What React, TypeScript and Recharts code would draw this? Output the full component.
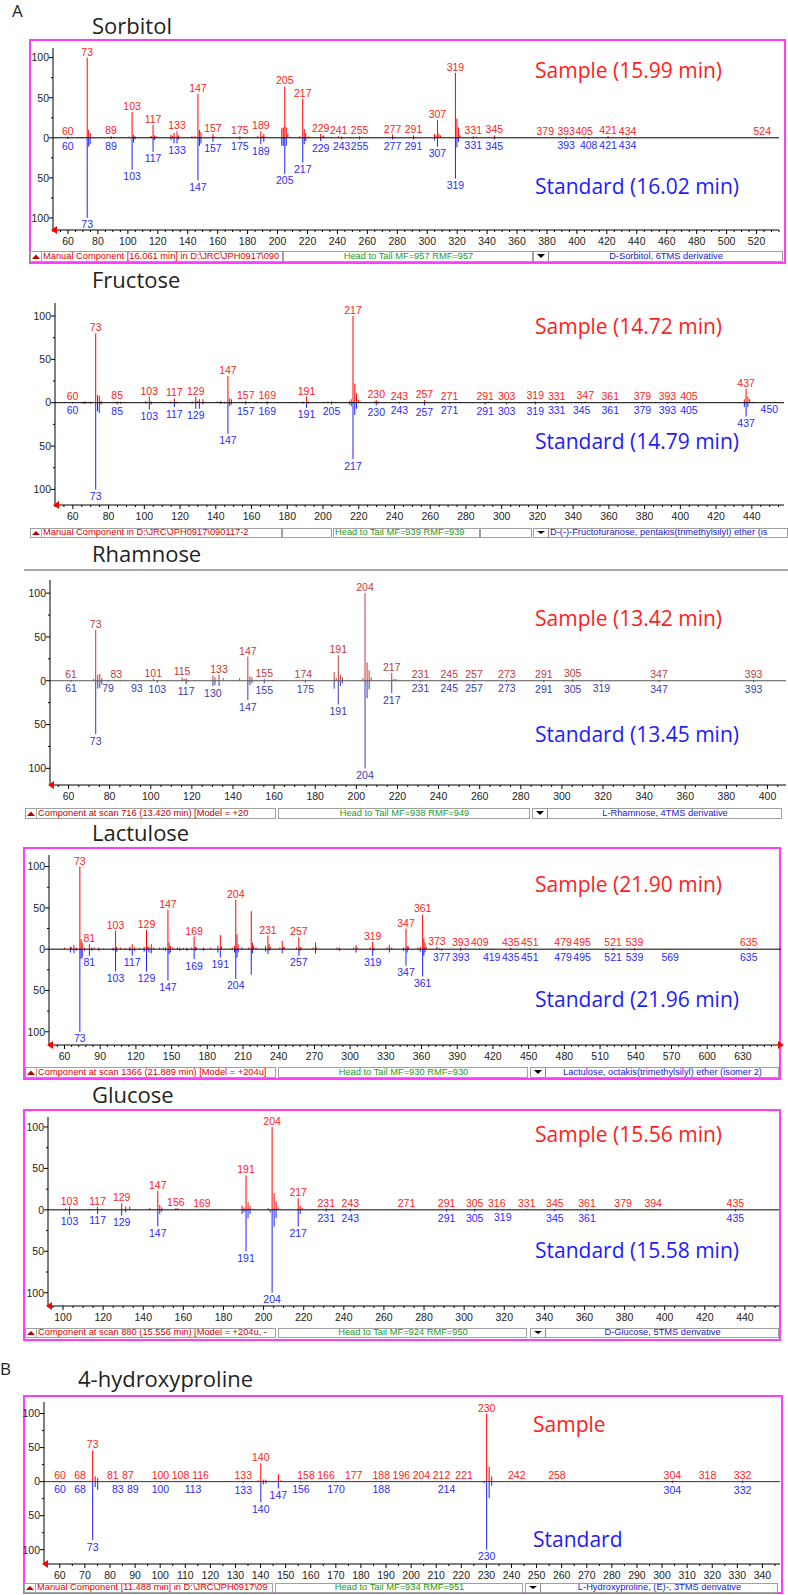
import { BarChart, Bar, XAxis, YAxis, ReferenceLine } from "recharts";

type Peak = [number, number];

// ─── SORBITOL ────────────────────────────────────────────────────────
const sorbitolSample: Peak[] = [
  [60, 1.5], [67, 1], [69, 1], [70, 1], [73, 100], [74, 10], [75, 6], [77, 1], [87, 1], [89, 2], [91, 1],
  [101, 1.5], [103, 32], [104, 4], [105, 2], [115, 1.5], [116, 2], [117, 16], [118, 3], [119, 2],
  [129, 4], [130, 2], [131, 6], [133, 8], [134, 3], [143, 2], [145, 2], [147, 55], [148, 10], [149, 7],
  [157, 5], [158, 1.5], [163, 1], [173, 1], [175, 2], [177, 1], [187, 2], [189, 8], [190, 2], [191, 5],
  [203, 12], [204, 13], [205, 64], [206, 13], [207, 5], [215, 2], [217, 49], [218, 11], [219, 6], [221, 1.5],
  [229, 5], [230, 2], [231, 3], [241, 2], [243, 1.5], [255, 2], [257, 1], [277, 4], [278, 1], [291, 3], [292, 1],
  [305, 5], [306, 3], [307, 22], [308, 5], [309, 3], [319, 81], [320, 24], [321, 13], [322, 3],
  [331, 2], [333, 1.5], [345, 3], [346, 1], [379, 1], [393, 1], [405, 1.5], [408, 1], [421, 2], [434, 1], [524, 0.5],
];
const sorbitolStandard: Peak[] = [
  [60, 1.5], [73, 100], [74, 11], [75, 8], [89, 1.5], [103, 40], [104, 6], [105, 2], [117, 17.5], [118, 3],
  [129, 3], [131, 7], [133, 7], [134, 2], [147, 53], [148, 10], [149, 7], [157, 5], [175, 2], [189, 8], [191, 5],
  [203, 10], [204, 10], [205, 45], [206, 10], [217, 31], [218, 8], [219, 4], [229, 4], [243, 2], [255, 2],
  [277, 2], [291, 2], [305, 3], [307, 11], [319, 51], [320, 12], [321, 5], [331, 1], [345, 2],
  [393, 1], [408, 1], [421, 1], [434, 1],
];
const sorbitolSampleLabels = [60, 73, 89, 103, 117, 133, 147, 157, 175, 189, 205, 217, 229, 241, 255, 277, 291, 307, 319, 331, 345, 379, 393, 405, 421, 434, 524];
const sorbitolStandardLabels = [60, 73, 89, 103, 117, 133, 147, 157, 175, 189, 205, 217, 229, 243, 255, 277, 291, 307, 319, 331, 345, 393, 408, 421, 434];
const sorbitolTicks = [60, 80, 100, 120, 140, 160, 180, 200, 220, 240, 260, 280, 300, 320, 340, 360, 380, 400, 420, 440, 460, 480, 500, 520];

// ─── FRUCTOSE ────────────────────────────────────────────────────────
const fructoseSample: Peak[] = [
  [60, 1], [65, 1], [66, 1], [67, 1.5], [68, 1], [69, 1], [70, 1], [71, 1], [73, 80], [74, 9], [75, 8], [76, 2],
  [83, 1], [85, 1.5], [87, 1], [89, 1], [101, 1.5], [103, 7], [104, 1.5], [111, 1], [115, 1.5], [117, 5], [118, 1],
  [119, 1], [127, 1.5], [129, 7], [130, 2], [131, 4], [133, 4], [141, 1.5], [143, 2], [145, 1], [147, 31], [148, 5],
  [149, 4], [155, 1], [157, 2], [163, 1], [169, 2], [171, 1], [175, 1], [185, 1], [189, 1.5], [191, 7], [192, 1.5],
  [201, 1], [203, 1.5], [205, 2], [207, 1], [215, 2], [216, 4], [217, 100], [218, 22], [219, 11], [220, 3], [221, 1.5],
  [229, 1.5], [230, 3], [231, 1.5], [243, 1], [245, 1], [257, 3], [258, 1], [271, 1], [277, 1], [291, 1], [293, 1],
  [303, 1], [305, 1], [319, 1.5], [331, 1], [347, 1.5], [361, 1], [379, 0.7], [393, 0.7], [405, 0.7],
  [436, 4], [437, 16], [438, 7], [439, 4], [441, 1],
];
const fructoseStandard: Peak[] = [
  [60, 1], [66, 1], [67, 1.5], [70, 1], [73, 100], [74, 10], [75, 12], [76, 2], [85, 2], [87, 1], [101, 1],
  [103, 8], [104, 2], [115, 1], [117, 5], [118, 1], [127, 1], [129, 7], [131, 7], [133, 2], [143, 1.5], [145, 1],
  [147, 36], [148, 4], [149, 2], [157, 2], [169, 2], [189, 1], [191, 6], [192, 1], [205, 2], [215, 2], [216, 4],
  [217, 65], [218, 14], [219, 7], [230, 3], [231, 1], [243, 1], [257, 3], [271, 1], [291, 2], [303, 2], [319, 2],
  [331, 1], [345, 1], [361, 1], [379, 1], [393, 1], [405, 1], [436, 5], [437, 16], [438, 5], [450, 0.3],
];
const fructoseSampleLabels = [60, 73, 85, 103, 117, 129, 147, 157, 169, 191, 217, 230, 243, 257, 271, 291, 303, 319, 331, 347, 361, 379, 393, 405, 437];
const fructoseStandardLabels = [60, 73, 85, 103, 117, 129, 147, 157, 169, 191, 205, 217, 230, 243, 257, 271, 291, 303, 319, 331, 345, 361, 379, 393, 405, 437, 450];
const fructoseTicks = [60, 80, 100, 120, 140, 160, 180, 200, 220, 240, 260, 280, 300, 320, 340, 360, 380, 400, 420, 440];

// ─── RHAMNOSE ────────────────────────────────────────────────────────
const rhamnoseSample: Peak[] = [
  [61, 1], [72, 2], [73, 58], [74, 7], [75, 8], [76, 3], [83, 1], [85, 1], [87, 1], [101, 2], [103, 1],
  [115, 4], [116, 2], [117, 3], [130, 6], [131, 4], [133, 7], [135, 3], [143, 3], [147, 27.5], [148, 5], [149, 4],
  [151, 1], [155, 2], [157, 1], [159, 1], [163, 1], [174, 1], [175, 1], [177, 1], [189, 10], [190, 3], [191, 29],
  [192, 7], [193, 4], [203, 3], [204, 100], [205, 21], [206, 12], [207, 4], [217, 9], [218, 2], [219, 2], [221, 1],
  [231, 1], [245, 1], [257, 1], [265, 1], [273, 1], [291, 1], [305, 1.5], [347, 1], [393, 1],
];
const rhamnoseStandard: Peak[] = [
  [61, 1], [73, 61], [74, 9], [75, 8], [76, 4], [79, 1], [93, 1], [103, 2], [117, 4], [118, 1], [130, 6],
  [131, 5], [133, 6], [147, 22], [148, 5], [149, 3], [155, 3], [175, 2], [189, 9], [191, 27], [192, 6], [193, 3],
  [204, 100], [205, 20], [206, 10], [217, 14], [231, 1], [245, 1], [257, 1], [273, 1], [291, 1.5], [305, 1.5],
  [319, 1], [347, 1.5], [393, 1.5],
];
const rhamnoseSampleLabels = [61, 73, 83, 101, 115, 133, 147, 155, 174, 191, 204, 217, 231, 245, 257, 273, 291, 305, 347, 393];
const rhamnoseStandardLabels = [61, 73, 79, 93, 103, 117, 130, 147, 155, 175, 191, 204, 217, 231, 245, 257, 273, 291, 305, 319, 347, 393];
const rhamnoseTicks = [60, 80, 100, 120, 140, 160, 180, 200, 220, 240, 260, 280, 300, 320, 340, 360, 380, 400];

// ─── LACTULOSE ───────────────────────────────────────────────────────
const lactuloseSample: Peak[] = [
  [60, 2], [65, 3], [66, 2], [68, 5], [70, 2], [73, 100], [74, 12], [75, 8], [77, 2], [81, 6], [83, 2], [85, 2],
  [89, 2], [93, 1], [101, 2], [103, 22.6], [104, 3], [107, 2], [111, 1], [115, 3], [117, 6], [119, 2], [123, 1.5],
  [127, 3], [129, 23.4], [130, 3], [131, 3], [133, 6], [135, 2], [140, 2], [143, 2], [145, 2], [147, 47.6],
  [148, 8], [149, 4], [151, 2], [155, 2], [157, 2], [160, 1.5], [163, 2], [167, 2], [169, 15.3], [170, 3],
  [171, 2], [177, 2], [183, 2], [189, 4], [191, 17], [192, 3], [201, 2], [203, 4], [204, 59.7], [205, 18],
  [206, 6], [209, 2], [215, 2], [217, 46], [218, 8], [219, 4], [221, 2], [229, 4], [231, 16.5], [232, 6],
  [233, 3], [241, 2], [243, 10], [244, 3], [245, 2], [255, 2], [257, 14.5], [258, 3], [259, 2], [269, 2],
  [271, 8], [272, 2], [289, 2], [291, 2], [303, 2], [305, 5], [306, 2], [317, 2], [319, 9], [320, 2], [331, 2],
  [333, 5], [335, 2], [345, 2], [347, 25], [348, 4], [349, 3], [357, 2], [359, 3], [361, 42], [362, 13],
  [363, 8], [364, 3], [373, 3], [375, 1], [393, 2], [397, 1], [409, 1], [435, 1.5], [451, 1], [479, 1],
  [495, 1], [521, 1.5], [539, 1], [635, 1],
];
const lactuloseStandard: Peak[] = [
  [65, 4], [68, 5], [70, 2], [73, 100], [74, 12], [75, 10], [77, 2], [81, 8], [83, 2], [89, 2], [101, 2],
  [103, 27], [104, 3], [115, 2], [117, 8], [119, 2], [127, 3], [129, 27], [131, 4], [133, 5], [145, 2],
  [147, 38], [148, 6], [149, 4], [157, 2], [163, 2], [169, 12], [170, 2], [177, 2], [189, 4], [191, 10],
  [203, 4], [204, 36], [205, 10], [206, 4], [217, 31], [218, 5], [229, 3], [231, 6], [232, 2], [243, 5],
  [257, 8], [258, 2], [271, 5], [291, 2], [305, 4], [319, 8], [320, 2], [333, 4], [345, 2], [347, 20],
  [348, 4], [359, 3], [361, 33], [362, 8], [363, 4], [377, 2], [393, 2], [419, 1], [435, 1], [451, 1],
  [479, 1], [495, 1], [521, 1.5], [539, 1.5], [569, 1], [635, 1],
];
const lactuloseSampleLabels = [73, 81, 103, 129, 147, 169, 204, 231, 257, 319, 347, 361, 373, 393, 409, 435, 451, 479, 495, 521, 539, 635];
const lactuloseStandardLabels = [73, 81, 103, 117, 129, 147, 169, 191, 204, 257, 319, 347, 361, 377, 393, 419, 435, 451, 479, 495, 521, 539, 569, 635];
const lactuloseTicks = [60, 90, 120, 150, 180, 210, 240, 270, 300, 330, 360, 390, 420, 450, 480, 510, 540, 570, 600, 630];

// ─── GLUCOSE ─────────────────────────────────────────────────────────
const glucoseSample: Peak[] = [
  [101, 2], [103, 4], [113, 1], [117, 4], [119, 1], [129, 8], [131, 4], [133, 4], [143, 2], [147, 23], [148, 6],
  [149, 3], [156, 2], [157, 2], [169, 1], [189, 5], [190, 3], [191, 41.5], [192, 9], [193, 5], [202, 2],
  [204, 100], [205, 20], [206, 10], [207, 3], [217, 14], [218, 5], [219, 2], [231, 1.5], [232, 1], [243, 1.5],
  [271, 1], [291, 1], [305, 1], [316, 1], [331, 1], [345, 1], [361, 1], [379, 0.5], [394, 0.5], [435, 1],
];
const glucoseStandard: Peak[] = [
  [103, 6], [117, 5], [129, 7], [131, 3], [147, 20], [148, 5], [149, 2], [189, 5], [190, 3], [191, 50],
  [192, 10], [193, 5], [203, 3], [204, 100], [205, 20], [206, 10], [217, 20], [218, 5], [231, 2], [243, 2],
  [291, 2], [305, 2], [319, 1], [345, 1.5], [361, 1.5], [435, 2],
];
const glucoseSampleLabels = [103, 117, 129, 147, 156, 169, 191, 204, 217, 231, 243, 271, 291, 305, 316, 331, 345, 361, 379, 394, 435];
const glucoseStandardLabels = [103, 117, 129, 147, 191, 204, 217, 231, 243, 291, 305, 319, 345, 361, 435];
const glucoseTicks = [100, 120, 140, 160, 180, 200, 220, 240, 260, 280, 300, 320, 340, 360, 380, 400, 420, 440];

// ─── 4-HYDROXYPROLINE ────────────────────────────────────────────────
const hypSample: Peak[] = [
  [60, 1], [66, 1], [68, 1], [70, 1], [72, 1], [73, 46], [74, 8], [75, 6], [77, 1], [81, 1], [84, 1], [87, 1],
  [99, 1], [100, 1], [102, 1], [108, 1], [110, 1], [116, 1], [118, 1], [126, 1], [128, 1], [131, 1], [133, 1],
  [139, 2], [140, 27], [141, 3], [142, 3], [143, 1], [147, 11], [148, 2], [149, 1], [158, 1], [166, 1], [177, 1],
  [188, 1], [196, 1], [204, 1], [212, 1], [221, 1], [230, 100], [231, 22], [232, 8], [242, 1], [258, 1],
  [304, 1.5], [318, 1], [332, 1.5],
];
const hypStandard: Peak[] = [
  [60, 1], [68, 1], [73, 86], [74, 8], [75, 12], [83, 1], [89, 1], [100, 1], [113, 1], [133, 2], [140, 30],
  [141, 4], [142, 3], [147, 10], [156, 1], [170, 1], [188, 1], [214, 1], [229, 2], [230, 100], [231, 24],
  [232, 6], [304, 2], [332, 2],
];
const hypSampleLabels = [60, 68, 73, 81, 87, 100, 108, 116, 133, 140, 158, 166, 177, 188, 196, 204, 212, 221, 230, 242, 258, 304, 318, 332];
const hypStandardLabels = [60, 68, 73, 83, 89, 100, 113, 133, 140, 147, 156, 170, 188, 214, 230, 304, 332];
const hypTicks = [60, 70, 80, 90, 100, 110, 120, 130, 140, 150, 160, 170, 180, 190, 200, 210, 220, 230, 240, 250, 260, 270, 280, 290, 300, 310, 320, 330, 340];

const yTicks = [-100, -75, -50, -25, 0, 25, 50, 75, 100];

// ─── TYPES / HELPERS ─────────────────────────────────────────────────

type Seg = { x0: number; x1: number; text?: string; color?: string; marker?: "up" | "down"; align?: "left" | "center" };

type PanelCfg = {
  title: string;
  titleX: number;
  titleBase: number;
  letter?: string;
  letterBase?: number;
  sample: Peak[];
  standard: Peak[];
  sampleLabels: number[];
  standardLabels: number[];
  xDomain: [number, number];
  xTicks: number[];
  minorStep: number;
  yDomain: [number, number];
  plotLeft: number;
  plotRight: number;
  plotTop: number;
  plotBottom: number;
  box?: { left: number; top: number; right: number; bottom: number };
  topLine?: number;
  sampleText: string;
  standardText: string;
  textX: number;
  sampleBase: number;
  standardBase: number;
  statusY: number;
  statusH: number;
  status: Seg[];
  rightArrow?: boolean;
  barRed: string;
  barBlue: string;
  labelRed: string;
  labelBlue: string;
  zeroColor: string;
};

type Row = { mz: number; s: number; t: number; sl: boolean; tl: boolean };

function buildRows(sample: Peak[], standard: Peak[], sl: number[], tl: number[]): Row[] {
  const map = new Map<number, Row>();
  const get = (mz: number) => {
    let r = map.get(mz);
    if (!r) {
      r = { mz, s: 0, t: 0, sl: false, tl: false };
      map.set(mz, r);
    }
    return r;
  };
  sample.forEach(([mz, v]) => (get(mz).s = v));
  standard.forEach(([mz, v]) => (get(mz).t = -v));
  sl.forEach((mz) => (get(mz).sl = true));
  tl.forEach((mz) => (get(mz).tl = true));
  return [...map.values()].sort((a, b) => a.mz - b.mz);
}

const SANS = "'Open Sans', sans-serif";
const UI = "'Liberation Sans', Arial, sans-serif";

// open sans baseline sits ~0.888em below the box top at line-height 1
function Txt({ x, base, size, color, children }: { x: number; base: number; size: number; color: string; children: any }) {
  return (
    <div style={{ position: "absolute", left: x, top: base - 0.888 * size, fontFamily: SANS, fontSize: size, lineHeight: 1, color, whiteSpace: "nowrap" }}>
      {children}
    </div>
  );
}

function StatusBar({ y, h, segs }: { y: number; h: number; segs: Seg[] }) {
  return (
    <>
      {segs.map((s, i) => (
        <div
          key={i}
          style={{
            position: "absolute",
            left: s.x0,
            top: y,
            width: s.x1 - s.x0,
            height: h,
            boxSizing: "border-box",
            border: "1px solid #a0a0a0",
            background: "#fff",
            display: "flex",
            alignItems: "center",
            overflow: "hidden",
            fontFamily: UI,
            fontSize: 9.3,
            lineHeight: 1,
            color: s.color,
            whiteSpace: "nowrap",
          }}
        >
          {s.marker === "up" && (
            <svg width={10} height={h - 2} style={{ flex: "none", borderRight: "1px solid #aaa" }}>
              <polygon points={`1,${h - 4} 5,${h / 2 - 3} 9,${h - 4}`} fill="#c00000" />
            </svg>
          )}
          {s.marker === "down" && (
            <svg width={14} height={h - 2} style={{ flex: "none", borderRight: "1px solid #888" }}>
              <polygon points={`3,2 11,2 7,${h - 5}`} fill="#000" />
            </svg>
          )}
          {s.text && (
            <span style={{ flex: 1, textAlign: s.align === "center" ? "center" : "left", paddingLeft: 1 }}>{s.text}</span>
          )}
        </div>
      ))}
    </>
  );
}

function Panel({ cfg }: { cfg: PanelCfg }) {
  const rows = buildRows(cfg.sample, cfg.standard, cfg.sampleLabels, cfg.standardLabels);
  const padTop = 8;
  const axisH = 20;
  const chartH = cfg.plotBottom - cfg.plotTop + padTop + axisH;

  const ticks: number[] = [];
  for (let v = Math.ceil(cfg.xDomain[0] / cfg.minorStep) * cfg.minorStep; v <= cfg.xDomain[1]; v += cfg.minorStep) ticks.push(v);

  const xTick = (p: any) => {
    const major = cfg.xTicks.includes(p.payload.value);
    return (
      <g>
        <line x1={p.x} x2={p.x} y1={p.y} y2={p.y + (major ? 4 : 2)} stroke="#000" />
        {major && (
          <text x={p.x} y={p.y + 14.5} textAnchor="middle" fontSize={10.5} fontFamily={UI} fill="#222">
            {p.payload.value}
          </text>
        )}
      </g>
    );
  };

  const yTick = (p: any) => {
    const v = p.payload.value;
    const major = v % 50 === 0;
    return (
      <g>
        <line x1={p.x - (major ? 4 : 2)} x2={p.x} y1={p.y} y2={p.y} stroke="#000" />
        {major && (
          <text x={p.x - 4} y={p.y + 3.8} textAnchor="end" fontSize={10.5} fontFamily={UI} fill="#222">
            {Math.abs(v)}
          </text>
        )}
      </g>
    );
  };

  const peakShape = (up: boolean) => (p: any) => {
    const top = Math.min(p.y, p.y + p.height);
    const bottom = Math.max(p.y, p.y + p.height);
    const cx = p.x + p.width / 2;
    const row = p.payload as Row;
    const labeled = up ? row.sl && row.s !== 0 : row.tl && row.t !== 0;
    return (
      <g>
        {bottom - top > 0 && <rect x={cx - 0.5} y={top} width={1} height={bottom - top} fill={up ? cfg.barRed : cfg.barBlue} />}
        {labeled && (
          <text
            x={cx}
            y={up ? top - 2 : bottom + 10.5}
            textAnchor="middle"
            fontSize={10.5}
            fontFamily={UI}
            fill={up ? cfg.labelRed : cfg.labelBlue}
          >
            {row.mz}
          </text>
        )}
      </g>
    );
  };

  const b = cfg.box;
  return (
    <>
      {cfg.letter && <Txt x={cfg.letter === "A" ? 12 : 0} base={cfg.letterBase!} size={17} color="#231f20">{cfg.letter}</Txt>}
      <Txt x={cfg.titleX} base={cfg.titleBase} size={22} color="#231f20">{cfg.title}</Txt>
      {b && (
        <div style={{ position: "absolute", left: b.left, top: b.top, width: b.right - b.left, height: b.bottom - b.top, border: "2px solid #ff3cff", boxSizing: "border-box" }} />
      )}
      {cfg.topLine !== undefined && (
        <div style={{ position: "absolute", left: 24, top: cfg.topLine, width: 764, height: 2, background: "#a8a8a8" }} />
      )}
      <div style={{ position: "absolute", left: 0, top: cfg.plotTop - padTop }}>
        <BarChart
          width={788}
          height={chartH}
          data={rows}
          margin={{ top: padTop, right: 788 - cfg.plotRight, left: 0, bottom: 0 }}
          stackOffset="sign"
          barSize={1}
        >
          <XAxis
            dataKey="mz"
            type="number"
            domain={cfg.xDomain}
            allowDataOverflow
            ticks={ticks}
            interval={0}
            tickSize={0}
            tickMargin={0}
            tickLine={false}
            height={axisH}
            stroke="#000"
            tick={xTick}
          />
          <YAxis
            type="number"
            domain={cfg.yDomain}
            allowDataOverflow
            ticks={yTicks}
            interval={0}
            width={cfg.plotLeft}
            tickSize={0}
            tickMargin={0}
            tickLine={false}
            stroke="#000"
            tick={yTick}
          />
          <Bar dataKey="s" stackId="a" isAnimationActive={false} shape={peakShape(true)} />
          <Bar dataKey="t" stackId="a" isAnimationActive={false} shape={peakShape(false)} />
          <ReferenceLine y={0} stroke={cfg.zeroColor} strokeWidth={1} />
        </BarChart>
      </div>
      {/* red axis arrows */}
      <svg style={{ position: "absolute", left: cfg.plotLeft - 2, top: cfg.plotBottom - 4 }} width={7} height={8}>
        <polygon points="0,4 6,0 6,8" fill="#ff0000" />
      </svg>
      {cfg.rightArrow && (
        <svg style={{ position: "absolute", left: cfg.plotRight - 4, top: cfg.plotBottom - 4 }} width={7} height={8}>
          <polygon points="7,4 1,0 1,8" fill="#ff0000" />
        </svg>
      )}
      <Txt x={cfg.textX} base={cfg.sampleBase} size={21} color="#ff1c1c">{cfg.sampleText}</Txt>
      <Txt x={cfg.textX} base={cfg.standardBase} size={21} color="#1c1cff">{cfg.standardText}</Txt>
      <StatusBar y={cfg.statusY} h={cfg.statusH} segs={cfg.status} />
    </>
  );
}

const RED = "#ff1a1a";
const BLUE = "#2a2aff";
const STAT_RED = "#e00000";
const STAT_GREEN = "#1a9a1a";
const STAT_BLUE = "#2020d0";

const panels: PanelCfg[] = [
  {
    title: "Sorbitol", titleX: 92, titleBase: 34, letter: "A", letterBase: 17,
    sample: sorbitolSample, standard: sorbitolStandard, sampleLabels: sorbitolSampleLabels, standardLabels: sorbitolStandardLabels,
    xDomain: [50, 535], xTicks: sorbitolTicks, minorStep: 5, yDomain: [-115, 112],
    plotLeft: 53, plotRight: 779, plotTop: 48, plotBottom: 230,
    box: { left: 29, top: 39, right: 786, bottom: 264 },
    sampleText: "Sample (15.99 min)", standardText: "Standard (16.02 min)", textX: 535, sampleBase: 79, standardBase: 195,
    statusY: 251, statusH: 11,
    status: [
      { x0: 30, x1: 283, marker: "up", text: "Manual Component [16.061 min] in D:\\JRC\\JPH0917\\090", color: STAT_RED },
      { x0: 283, x1: 533, text: "Head to Tail MF=957 RMF=957", color: STAT_GREEN, align: "center" },
      { x0: 533, x1: 783, marker: "down", text: "D-Sorbitol, 6TMS derivative", color: STAT_BLUE, align: "center" },
    ],
    barRed: "#ff0000", barBlue: "#2020ff", labelRed: RED, labelBlue: BLUE, zeroColor: "#000",
  },
  {
    title: "Fructose", titleX: 92, titleBase: 288,
    sample: fructoseSample, standard: fructoseStandard, sampleLabels: fructoseSampleLabels, standardLabels: fructoseStandardLabels,
    xDomain: [50, 458], xTicks: fructoseTicks, minorStep: 5, yDomain: [-118, 115],
    plotLeft: 55, plotRight: 784, plotTop: 303, plotBottom: 505,
    sampleText: "Sample (14.72 min)", standardText: "Standard (14.79 min)", textX: 535, sampleBase: 335, standardBase: 450,
    statusY: 528, statusH: 10,
    status: [
      { x0: 30, x1: 282, marker: "up", text: "Manual Component in D:\\JRC\\JPH0917\\090117-2", color: STAT_RED },
      { x0: 282, x1: 332 },
      { x0: 333, x1: 480, text: "Head to Tail MF=939 RMF=939", color: STAT_GREEN },
      { x0: 480, x1: 532 },
      { x0: 533, x1: 788, marker: "down", text: "D-(-)-Fructofuranose, pentakis(trimethylsilyl) ether (is", color: STAT_BLUE },
    ],
    barRed: "#ff0000", barBlue: "#2020ff", labelRed: RED, labelBlue: BLUE, zeroColor: "#000",
  },
  {
    title: "Rhamnose", titleX: 92, titleBase: 562,
    sample: rhamnoseSample, standard: rhamnoseStandard, sampleLabels: rhamnoseSampleLabels, standardLabels: rhamnoseStandardLabels,
    xDomain: [51, 409], xTicks: rhamnoseTicks, minorStep: 5, yDomain: [-119, 115],
    plotLeft: 50, plotRight: 786, plotTop: 580, plotBottom: 785,
    topLine: 569,
    sampleText: "Sample (13.42 min)", standardText: "Standard (13.45 min)", textX: 535, sampleBase: 627, standardBase: 743,
    statusY: 808, statusH: 11,
    status: [
      { x0: 25, x1: 276, marker: "up", text: "Component at scan 716 (13.420 min) [Model = +20", color: "#c00000" },
      { x0: 278, x1: 530, text: "Head to Tail MF=938 RMF=949", color: STAT_GREEN, align: "center" },
      { x0: 532, x1: 782, marker: "down", text: "L-Rhamnose, 4TMS derivative", color: STAT_BLUE, align: "center" },
    ],
    barRed: "#c4383c", barBlue: "#3a3ab4", labelRed: "#c0393b", labelBlue: "#3b3bb0", zeroColor: "#555",
  },
  {
    title: "Lactulose", titleX: 92, titleBase: 841,
    sample: lactuloseSample, standard: lactuloseStandard, sampleLabels: lactuloseSampleLabels, standardLabels: lactuloseStandardLabels,
    xDomain: [47, 662], xTicks: lactuloseTicks, minorStep: 6, yDomain: [-116, 114],
    plotLeft: 49, plotRight: 781, plotTop: 855, plotBottom: 1045,
    box: { left: 23, top: 847, right: 781, bottom: 1080 },
    rightArrow: true,
    sampleText: "Sample (21.90 min)", standardText: "Standard (21.96 min)", textX: 535, sampleBase: 893, standardBase: 1008,
    statusY: 1067, statusH: 11,
    status: [
      { x0: 25, x1: 276, marker: "up", text: "Component at scan 1366 (21.889 min) [Model = +204u]", color: STAT_RED },
      { x0: 278, x1: 528, text: "Head to Tail MF=930 RMF=930", color: STAT_GREEN, align: "center" },
      { x0: 530, x1: 779, marker: "down", text: "Lactulose, octakis(trimethylsilyl) ether (isomer 2)", color: STAT_BLUE, align: "center" },
    ],
    barRed: "#ff0000", barBlue: "#2020ff", labelRed: RED, labelBlue: BLUE, zeroColor: "#000",
  },
  {
    title: "Glucose", titleX: 92, titleBase: 1103,
    sample: glucoseSample, standard: glucoseStandard, sampleLabels: glucoseSampleLabels, standardLabels: glucoseStandardLabels,
    xDomain: [92.5, 457], xTicks: glucoseTicks, minorStep: 5, yDomain: [-116, 112],
    plotLeft: 48, plotRight: 779, plotTop: 1117, plotBottom: 1306,
    box: { left: 23, top: 1109, right: 781, bottom: 1341 },
    sampleText: "Sample (15.56 min)", standardText: "Standard (15.58 min)", textX: 535, sampleBase: 1143, standardBase: 1259,
    statusY: 1328, statusH: 10,
    status: [
      { x0: 25, x1: 276, marker: "up", text: "Component at scan 880 (15.556 min) [Model = +204u, -", color: STAT_RED },
      { x0: 278, x1: 527, text: "Head to Tail MF=924 RMF=950", color: STAT_GREEN, align: "center" },
      { x0: 530, x1: 779, marker: "down", text: "D-Glucose, 5TMS derivative", color: STAT_BLUE, align: "center" },
    ],
    barRed: "#ff0000", barBlue: "#2020ff", labelRed: RED, labelBlue: BLUE, zeroColor: "#000",
  },
  {
    title: "4-hydroxyproline", titleX: 78, titleBase: 1387, letter: "B", letterBase: 1375,
    sample: hypSample, standard: hypStandard, sampleLabels: hypSampleLabels, standardLabels: hypStandardLabels,
    xDomain: [53.7, 347], xTicks: hypTicks, minorStep: 5, yDomain: [-121, 117],
    plotLeft: 44, plotRight: 780, plotTop: 1402, plotBottom: 1564,
    box: { left: 23, top: 1395, right: 783, bottom: 1594 },
    sampleText: "Sample", standardText: "Standard", textX: 533, sampleBase: 1433, standardBase: 1548,
    statusY: 1583, statusH: 10,
    status: [
      { x0: 24, x1: 273, marker: "up", text: "Manual Component [11.488 min] in D:\\JRC\\JPH0917\\09", color: STAT_RED },
      { x0: 275, x1: 523, text: "Head to Tail MF=934 RMF=951", color: STAT_GREEN, align: "center" },
      { x0: 525, x1: 778, marker: "down", text: "L-Hydroxyproline, (E)-, 3TMS derivative", color: STAT_BLUE, align: "center" },
    ],
    barRed: "#ff0000", barBlue: "#2020ff", labelRed: RED, labelBlue: BLUE, zeroColor: "#333",
  },
];

export default function App() {
  return (
    <div style={{ position: "absolute", left: 0, top: 0, width: 788, height: 1595, background: "#fff", overflow: "hidden" }}>
      {panels.map((p) => (
        <Panel key={p.title} cfg={p} />
      ))}
    </div>
  );
}
